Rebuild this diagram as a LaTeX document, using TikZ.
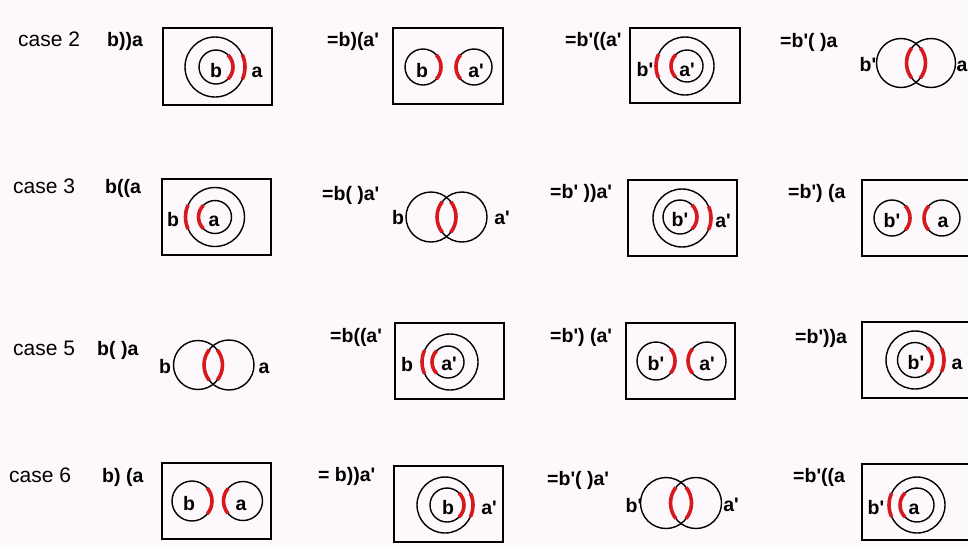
\documentclass[tikz,border=0pt]{standalone}
\usepackage{fontspec}
\newfontfamily\lsans{Liberation Sans}
\definecolor{bgpink}{RGB}{253,248,252}
\definecolor{bred}{RGB}{215,25,30}
\tikzset{
  box/.style={draw=black, line width=1.6pt},
  ring/.style={draw=black, line width=1.4pt},
  redarc/.style={draw=bred, line width=3.6pt},
  casetxt/.style={font=\lsans\fontsize{21}{21}\selectfont, anchor=base west, inner sep=0pt},
  eqtxt/.style={font=\lsans\bfseries\fontsize{19.5}{19.5}\selectfont, anchor=base west, inner sep=0pt},
  lbl/.style={font=\lsans\bfseries\fontsize{19.5}{19.5}\selectfont, anchor=base, inner sep=0pt},
}
\newcommand\myarcR[4]{\draw[redarc] (#1,#2) ++(-#4:#3) arc[start angle=-#4,end angle=#4,radius=#3];}
\newcommand\myarcL[4]{\draw[redarc] (#1,#2) ++(180-#4:#3) arc[start angle=180-#4,end angle=180+#4,radius=#3];}
\begin{document}
\begin{tikzpicture}[x=1pt,y=-1pt]
\useasboundingbox (0,0) rectangle (968,547);
\fill[bgpink] (0,0) rectangle (968,547);
\clip (0,0) rectangle (968,547);

% ---------------- Row 1 ----------------
\node[casetxt] (c2) at (18,46) {case 2};
\node[eqtxt] (c2e) at (107,46) {b))a};
\draw[box] (163,28) rectangle (272,105);
\draw[ring] (215,67) circle[radius=30];
\draw[ring] (216,67) circle[radius=17];
\myarcR{216}{67}{17}{45}
\myarcR{215}{67}{30}{24}
\node[lbl] (l11) at (216,77) {b};
\node[lbl] (l12) at (257,77) {a};

\node[eqtxt] (e12) at (327,46) {=b)(a'};
\draw[box] (393,28) rectangle (503,104);
\draw[ring] (423,67) circle[radius=18];
\draw[ring] (474,67) circle[radius=18];
\myarcR{423}{67}{18}{42}
\myarcL{474}{67}{18}{42}
\node[lbl] (l13) at (422,77) {b};
\node[lbl] (l14) at (476,77) {a'};

\node[eqtxt] (e13) at (565,46) {=b'((a'};
\draw[box] (630,28) rectangle (740,103);
\draw[ring] (685,66) circle[radius=29];
\draw[ring] (687,66) circle[radius=16];
\myarcL{685}{66}{29}{24}
\myarcL{687}{66}{16}{45}
\node[lbl] (l15) at (645,76) {b'};
\node[lbl] (l16) at (687,76) {a'};

\node[eqtxt] (e14) at (780,47) {=b'( )a};
\draw[ring] (901,63) circle[radius=24.5];
\draw[ring] (931,63) circle[radius=24.5];
\myarcR{901}{63}{24.5}{38}
\myarcL{931}{63}{24.5}{38}
\node[lbl] (l17) at (868,71) {b'};
\node[lbl] (l18) at (962,71) {a};

% ---------------- Row 2 ----------------
\node[casetxt] (c3) at (13,193) {case 3};
\node[eqtxt] (c3e) at (105,193) {b((a};
\draw[box] (162,179) rectangle (271,255);
\draw[ring] (215,217) circle[radius=29.5];
\draw[ring] (215,217) circle[radius=16.5];
\myarcL{215}{217}{29.5}{24}
\myarcL{215}{217}{16.5}{45}
\node[lbl] (l21) at (173,226) {b};
\node[lbl] (l22) at (214,226) {a};

\node[eqtxt] (e22) at (322,200) {=b( )a'};
\draw[ring] (431,217) circle[radius=25];
\draw[ring] (462,217) circle[radius=25];
\myarcR{431}{217}{25}{38}
\myarcL{462}{217}{25}{38}
\node[lbl] (l23) at (398,224) {b};
\node[lbl] (l24) at (502,224) {a'};

\node[eqtxt] (e23) at (550,198) {=b' ))a'};
\draw[box] (628,180) rectangle (737,256);
\draw[ring] (682,218) circle[radius=29];
\draw[ring] (680,217) circle[radius=17];
\myarcR{680}{217}{17}{45}
\myarcR{682}{218}{29}{24}
\node[lbl] (l25) at (680,226) {b'};
\node[lbl] (l26) at (723,227) {a'};

\node[eqtxt] (e24) at (788,198) {=b') (a};
\draw[box] (862,180) rectangle (990,256);
\draw[ring] (892,218) circle[radius=18];
\draw[ring] (942,218) circle[radius=18];
\myarcR{892}{218}{18}{42}
\myarcL{942}{218}{18}{42}
\node[lbl] (l27) at (892,227) {b'};
\node[lbl] (l28) at (943,227) {a};

% ---------------- Row 3 ----------------
\node[casetxt] (c5) at (13,355) {case 5};
\node[eqtxt] (c5e) at (97,355) {b( )a};
\draw[ring] (198,365) circle[radius=24.5];
\draw[ring] (229,365) circle[radius=25];
\myarcR{198}{365}{24.5}{38}
\myarcL{229}{365}{25}{38}
\node[lbl] (l31) at (165,373) {b};
\node[lbl] (l32) at (264,373) {a};

\node[eqtxt] (e32) at (330,342) {=b((a'};
\draw[box] (395,323) rectangle (504,399);
\draw[ring] (450,362) circle[radius=28];
\draw[ring] (448,362) circle[radius=16];
\myarcL{450}{362}{28}{25}
\myarcL{448}{362}{16}{45}
\node[lbl] (l33) at (407,371) {b};
\node[lbl] (l34) at (449,370) {a'};

\node[eqtxt] (e33) at (550,342) {=b') (a'};
\draw[box] (626,323) rectangle (735,399);
\draw[ring] (656,361) circle[radius=19];
\draw[ring] (707,361) circle[radius=19];
\myarcR{656}{361}{19}{40}
\myarcL{707}{361}{19}{40}
\node[lbl] (l35) at (656,370) {b'};
\node[lbl] (l36) at (707,370) {a'};

\node[eqtxt] (e34) at (795,343) {=b'))a};
\draw[box] (862,322) rectangle (990,398);
\draw[ring] (915,360) circle[radius=29];
\draw[ring] (915,360) circle[radius=17.5];
\myarcR{915}{360}{17.5}{45}
\myarcR{915}{360}{29}{24}
\node[lbl] (l37) at (916,369) {b'};
\node[lbl] (l38) at (957,369) {a};

% ---------------- Row 4 ----------------
\node[casetxt] (c6) at (9,482) {case 6};
\node[eqtxt] (c6e) at (102,482) {b) (a};
\draw[box] (162,463) rectangle (271,539);
\draw[ring] (192,501) circle[radius=20];
\draw[ring] (243,501) circle[radius=19.5];
\myarcR{192}{501}{20}{40}
\myarcL{243}{501}{19.5}{40}
\node[lbl] (l41) at (189,510) {b};
\node[lbl] (l42) at (241,510) {a};

\node[eqtxt] (e42) at (318,481) {= b))a'};
\draw[box] (394,466) rectangle (503,542);
\draw[ring] (445,505) circle[radius=28];
\draw[ring] (447,505) circle[radius=17];
\myarcR{447}{505}{17}{45}
\myarcR{445}{505}{28}{25}
\node[lbl] (l43) at (448,514) {b};
\node[lbl] (l44) at (489,514) {a'};

\node[eqtxt] (e43) at (547,485) {=b'( )a'};
\draw[ring] (666,503) circle[radius=25.5];
\draw[ring] (696,503) circle[radius=25.5];
\myarcR{666}{503}{25.5}{38}
\myarcL{696}{503}{25.5}{38}
\node[lbl] (l45) at (634,512) {b'};
\node[lbl] (l46) at (731,511) {a'};

\node[eqtxt] (e44) at (793,482) {=b'((a};
\draw[box] (862,464) rectangle (990,540);
\draw[ring] (917,505) circle[radius=28];
\draw[ring] (917,505) circle[radius=17];
\myarcL{917}{505}{28}{25}
\myarcL{917}{505}{17}{45}
\node[lbl] (l47) at (876,514) {b'};
\node[lbl] (l48) at (914,514) {a};
\end{tikzpicture}
\end{document}
